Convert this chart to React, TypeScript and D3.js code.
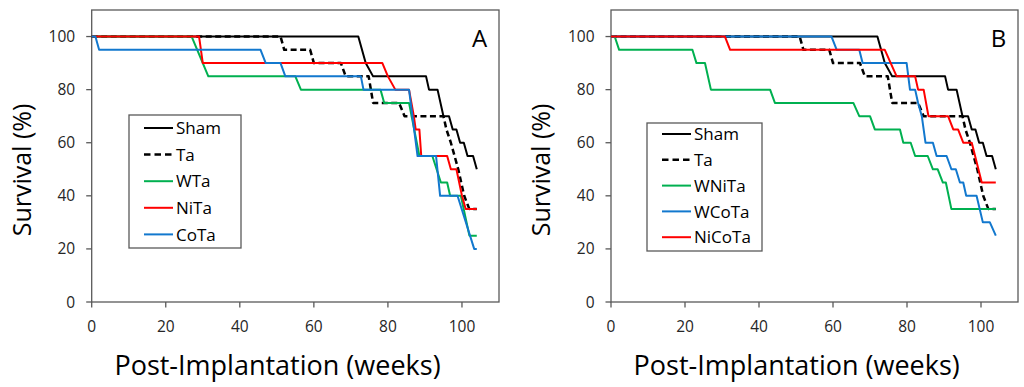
import React from 'react';
import * as d3 from 'd3';

type Pt = [number, number];

const weekTicks = [0, 20, 40, 60, 80, 100];
const survivalTicks = [0, 20, 40, 60, 80, 100];

// Shared groups (same in both panels)
const sham: Pt[] = [[0,100],[72,100],[74,90],[76,85],[90.3,85],[91.1,80],[93.4,80],[95,70],[96.5,70],[97.5,65],[98.5,65],[99.5,60],[100.5,60],[101.5,55],[103,55],[104,50]];
const ta: Pt[] = [[0,100],[51,100],[52,95],[59,95],[60,90],[67.3,90],[68.6,85],[74.8,85],[76,75],[83,75],[84.5,70],[95,70],[95.8,65],[97,60],[98,55],[99,50],[99.8,45],[100.6,40],[102,35],[104,35]];

// Panel A
const wTa: Pt[] = [[0,100],[27,100],[31.5,85],[55,85],[56.5,80],[78,80],[79,75],[85.7,75],[88.5,55],[92,55],[94.3,45],[96,45],[96.8,40],[99.7,40],[102,25],[104,25]];
const niTa: Pt[] = [[0,100],[29,100],[30,90],[78.5,90],[80,85],[82,80],[85.7,80],[87,70],[87.5,65],[88.5,65],[89,55],[96,55],[97,50],[98.5,50],[100,40],[101,35],[104,35]];
const coTa: Pt[] = [[0,100],[1,100],[2,95],[45.6,95],[47,90],[51,90],[52.3,85],[72.7,85],[73.4,80],[85.7,80],[88,55],[93,55],[94.1,40],[98.8,40],[103.3,20],[104,20]];

// Panel B
const wNiTa: Pt[] = [[0,100],[1,100],[2.2,95],[22,95],[23.1,90],[25.4,90],[27,80],[43,80],[44.3,75],[65.5,75],[67.1,70],[70,70],[71.3,65],[78.1,65],[79,60],[81,60],[82.2,55],[85.6,55],[87,50],[88.3,50],[89.7,45],[90.5,45],[92,35],[104,35]];
const wCoTa: Pt[] = [[0,100],[59.6,100],[61,95],[67.1,95],[68,90],[79.9,90],[80.8,80],[82.2,80],[83,75],[84,70],[85,60],[87,60],[88,55],[90.7,55],[92,50],[93.2,50],[94.3,45],[95.2,45],[96,40],[98.8,40],[100.5,30],[102.4,30],[104,25]];
const niCoTa: Pt[] = [[0,100],[30.8,100],[32.2,95],[74,95],[77.2,85],[82.2,85],[83,80],[84.5,80],[85.8,70],[91.1,70],[92.5,65],[93.8,65],[95.2,60],[97.5,60],[100.2,45],[104,45]];

const namesA = ['Sham', 'Ta', 'WTa', 'NiTa', 'CoTa'];
const namesB = ['Sham', 'Ta', 'WNiTa', 'WCoTa', 'NiCoTa'];
const colorsA = ['#000000', '#000000', '#00B050', '#FF0000', '#1278CE'];
const colorsB = ['#000000', '#000000', '#00B050', '#1278CE', '#FF0000'];
const dataA = [sham, ta, wTa, niTa, coTa];
const dataB = [sham, ta, wNiTa, wCoTa, niCoTa];

const FONT = '"Open Sans", "Noto Sans", sans-serif';

type PanelProps = {
  x0: number; x1: number; y0: number; y1: number;
  letter: string; names: string[]; colors: string[]; data: Pt[][];
  legend: { x: number; y: number; w: number; h: number; rowY: number; rowGap: number };
};

function Panel({ x0, x1, y0, y1, letter, names, colors, data, legend }: PanelProps) {
  const x = d3.scaleLinear().domain([0, 110]).range([x0, x1]);
  const y = d3.scaleLinear().domain([0, 110]).range([y1, y0]);
  const line = d3.line<Pt>().x(d => x(d[0])).y(d => y(d[1]));
  const axisColor = '#595959';
  return (
    <g>
      <rect x={x0} y={y0} width={x1 - x0} height={y1 - y0} fill="none" stroke={axisColor} strokeWidth={1.3} />
      {survivalTicks.map(t => (
        <g key={'y' + t}>
          <line x1={x0 - 5.5} x2={x0} y1={y(t)} y2={y(t)} stroke={axisColor} strokeWidth={1.3} />
          <text x={x0 - 16.5} y={y(t)} dy="0.36em" textAnchor="end" fontSize={15.5} fill="#262626" fontFamily={FONT}>{t}</text>
        </g>
      ))}
      {weekTicks.map(t => (
        <g key={'x' + t}>
          <line x1={x(t)} x2={x(t)} y1={y1} y2={y1 + 5.5} stroke={axisColor} strokeWidth={1.3} />
          <text x={x(t)} y={332} textAnchor="middle" fontSize={15.5} fill="#262626" fontFamily={FONT}>{t}</text>
        </g>
      ))}
      {data.map((d, i) => (
        <path key={names[i]} d={line(d) || ''} fill="none" stroke={colors[i]}
          strokeWidth={i === 1 ? 2.5 : 2} strokeDasharray={i === 1 ? '6,3.5' : undefined}
          strokeLinejoin="round" />
      ))}
      <text x={x1 - 19.5} y={47} textAnchor="middle" fontSize={24} fontFamily={FONT} fill="#000">{letter}</text>
      <rect x={legend.x} y={legend.y} width={legend.w} height={legend.h} fill="#fff" stroke={axisColor} strokeWidth={1.3} />
      {names.map((n, i) => {
        const ry = legend.rowY + i * legend.rowGap;
        return (
          <g key={'lg' + n}>
            <line x1={legend.x + 15} x2={legend.x + 44} y1={ry} y2={ry} stroke={colors[i]}
              strokeWidth={i === 1 ? 2.5 : 2} strokeDasharray={i === 1 ? '6.5,4' : undefined} />
            <text x={legend.x + 47} y={ry} dy="0.36em" fontSize={17} fontFamily={FONT} fill="#000">{n}</text>
          </g>
        );
      })}
    </g>
  );
}

export default function App() {
  return (
    <svg width={1024} height={387} style={{ position: 'absolute', left: 0, top: 0, background: '#fff' }}>
      <Panel x0={91.7} x1={499} y0={10} y1={302} letter="A" names={namesA} colors={colorsA} data={dataA}
        legend={{ x: 129, y: 115, w: 112, h: 133, rowY: 128, rowGap: 26.6 }} />
      <Panel x0={611} x1={1018} y0={10} y1={302} letter="B" names={namesB} colors={colorsB} data={dataB}
        legend={{ x: 647, y: 123, w: 115, h: 128, rowY: 134, rowGap: 25.8 }} />
      <text transform="translate(22,170) rotate(-90)" dy="0.35em" textAnchor="middle" fontSize={25} fontFamily={FONT}>Survival (%)</text>
      <text transform="translate(541,170) rotate(-90)" dy="0.35em" textAnchor="middle" fontSize={25} fontFamily={FONT}>Survival (%)</text>
      <text x={277.5} y={375} textAnchor="middle" fontSize={27} fontFamily={FONT}>Post-Implantation (weeks)</text>
      <text x={796.7} y={375} textAnchor="middle" fontSize={27} fontFamily={FONT}>Post-Implantation (weeks)</text>
    </svg>
  );
}
